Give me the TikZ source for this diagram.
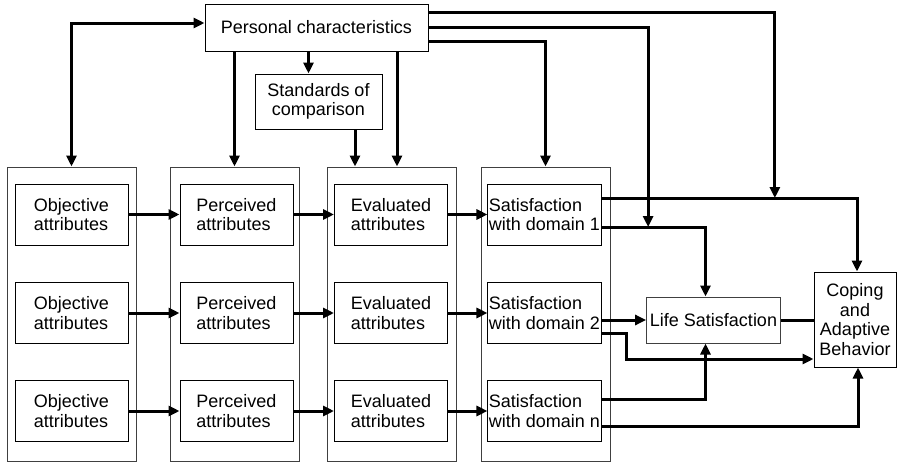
\documentclass[tikz,border=0pt]{standalone}
\usepackage{fontspec}
\setmainfont{Liberation Sans}
\usetikzlibrary{arrows.meta}

\begin{document}
\begin{tikzpicture}[x=1pt,y=-1pt,
    box/.style={draw,line width=1pt,minimum width=113pt,minimum height=61pt,inner sep=1pt,align=left},
    column/.style={draw=black!75,line width=1pt,minimum width=129pt,minimum height=294pt},
    arr/.style={line width=3pt,-{Triangle[length=11pt,width=10pt]}},
    arrboth/.style={line width=3pt,{Triangle[length=11pt,width=10pt]}-{Triangle[length=11pt,width=10pt]}}]
\tikzset{every node/.style={font=\fontsize{18}{19.5}\selectfont}}
\useasboundingbox (0,0) rectangle (898,463);
% the four stages
\node[column] (col1) at (71.5,314) {};
\node[column] (col2) at (234.5,314) {};
\node[column] (col3) at (391.5,314) {};
\node[column] (col4) at (545.5,314) {};
\node[box] (obj1) at (71.5,214.5) {Objective\\attributes};
\node[box] (obj2) at (71.5,313) {Objective\\attributes};
\node[box] (obj3) at (71.5,411) {Objective\\attributes};
\node[box] (per1) at (236.5,214.5) {Perceived\\attributes};
\node[box] (per2) at (236.5,313) {Perceived\\attributes};
\node[box] (per3) at (236.5,411) {Perceived\\attributes};
\node[box] (eva1) at (391,214.5) {Evaluated\\attributes};
\node[box] (eva2) at (391,313) {Evaluated\\attributes};
\node[box] (eva3) at (391,411) {Evaluated\\attributes};
\node[box] (sat1) at (544.5,214.5) {Satisfaction\\with domain 1};
\node[box] (sat2) at (544.5,313) {Satisfaction\\with domain 2};
\node[box] (sat3) at (544.5,411) {Satisfaction\\with domain n};
% other boxes
\node[draw,line width=1pt,minimum width=223pt,minimum height=47pt] (pers) at (316.5,27.5) {Personal characteristics};
\node[draw,line width=1pt,minimum width=127pt,minimum height=55pt,align=center] (stand) at (318.5,101.5) {Standards of\\comparison};
\node[draw=black!75,line width=1pt,minimum width=133pt,minimum height=46pt] (life) at (713.5,320) {Life Satisfaction};
\node[draw,line width=1pt,minimum width=82pt,minimum height=95pt,align=center] (coping) at (855,319.5) {Coping\\and\\Adaptive\\Behavior};
\coordinate (s1a) at ([yshift=16.5pt]sat1.east);
\coordinate (s1b) at ([yshift=-12.5pt]sat1.east);
% rows
\draw[arr] (obj1.east) -- (per1.west);
\draw[arr] (obj2.east) -- (per2.west);
\draw[arr] (obj3.east) -- (per3.west);
\draw[arr] (per1.east) -- (eva1.west);
\draw[arr] (per2.east) -- (eva2.west);
\draw[arr] (per3.east) -- (eva3.west);
\draw[arr] (eva1.east) -- (sat1.west);
\draw[arr] (eva2.east) -- (sat2.west);
\draw[arr] (eva3.east) -- (sat3.west);
% from personal characteristics
\draw[arrboth] ([yshift=4.5pt]pers.west) -| (col1.north);
\draw[arr] (pers.south -| col2.north) -- (col2.north);
\draw[arr] ([xshift=-10pt]stand.north |- pers.south) -- ([xshift=-10pt]stand.north);
\draw[arr] ([xshift=36.5pt]stand.south) -- ([xshift=36.5pt]stand.south |- col3.north);
\draw[arr] ([xshift=80.5pt]pers.south) -- ([xshift=80.5pt]pers.south |- col3.north);
\draw[arr] ([yshift=-13.5pt]pers.east) -| (col4.north);
\draw[arr] (pers.east) -| ([xshift=2pt]life.west |- s1b);
\draw[arr] ([yshift=15.5pt]pers.east) -| ([xshift=-6pt]life.east |- s1a);
% to life satisfaction and coping
\draw[arr] (s1a) -| ([xshift=2pt]coping.north);
\draw[arr] (s1b) -| ([xshift=-8pt]life.north);
\draw[arr] (sat2.east |- life.west) -- (life.west);
\draw[arr] ([yshift=-20pt]sat2.east) -- ++(25,0) |- ([yshift=-39.5pt]coping.west);
\draw[arr] ([yshift=12pt]sat3.east) -| ([xshift=-8pt]life.south);
\draw[arr] ([yshift=-15pt]sat3.east) -| ([xshift=3pt]coping.south);
\draw[line width=3pt] (life.east) -- (life.east -| coping.west);
\end{tikzpicture}
\end{document}
